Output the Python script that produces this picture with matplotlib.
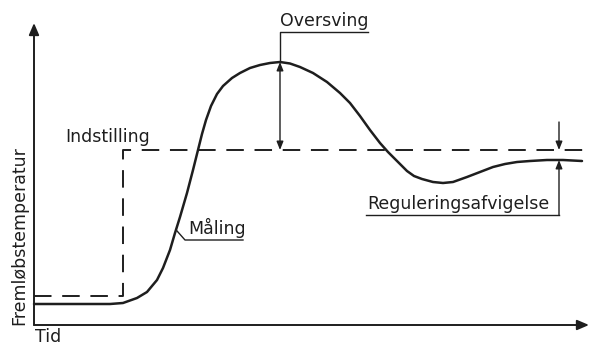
import numpy as np
import matplotlib.pyplot as plt

### DATA

# measured flow temperature (Måling)
tid = [0, 76, 89, 103, 113, 123, 129, 136, 141, 146, 153, 159, 164, 168, 172, 177, 183, 189,
       198, 206, 216, 226, 236, 246, 256, 266, 279, 293, 306, 316, 326, 336, 346, 354, 363,
       373, 380, 388, 399, 409, 419, 433, 446, 459, 471, 483, 496, 513, 529, 548]
maaling = [21, 21, 22, 27, 33, 45, 57, 75, 92, 108, 132, 155, 175, 191, 205, 219, 231, 239,
           247, 252, 257, 260, 262, 263, 261.5, 258, 252, 243, 232, 222, 209, 195, 182, 173, 164,
           154, 149, 146, 143, 142, 143, 148, 153, 158, 161, 163, 164, 165, 165, 164]

# setpoint step (Indstilling)
indst_tid = [0, 89, 89, 555]
indstilling = [29, 29, 175, 175]

ylabel = 'Fremløbstemperatur'
xlabel = 'Tid'

### PLOT

ink = '#1e1e1e'
fs = 12.5
plt.rcParams['font.family'] = ['DejaVu Sans']

fig = plt.figure(figsize=(5.89, 3.46), dpi=100)
ax = fig.add_axes([0, 0, 1, 1])
ax.set_xlim(-34, 555)
ax.set_ylim(-21, 325)
ax.axis('off')

def arrow(xy, xytext, style, lw=1.0, scale=10):
    ax.annotate('', xy=xy, xytext=xytext,
                arrowprops=dict(arrowstyle=style, lw=lw, color=ink,
                                shrinkA=0, shrinkB=0, mutation_scale=scale))

# axes with arrow heads
arrow((0, 302), (0, 0), '-|>,head_length=0.7,head_width=0.3', lw=1.4)
arrow((555, 0), (0, 0), '-|>,head_length=0.7,head_width=0.3', lw=1.4)

# curves
ax.plot(indst_tid, indstilling, color=ink, lw=1.4, ls=(0, (9, 5.5)))
ax.plot(tid, maaling, color=ink, lw=1.8, solid_capstyle='round', solid_joinstyle='round')

setpoint = indstilling[-1]

# overshoot
i_peak = int(np.argmax(maaling))
t_peak, peak = tid[i_peak], maaling[i_peak]
arrow((t_peak, peak), (t_peak, setpoint), '<|-|>,head_length=0.5,head_width=0.2')
ax.plot([t_peak, t_peak, 334], [peak, 293, 293], color=ink, lw=1.0)
ax.text(t_peak, 299, 'Oversving', fontsize=fs, color=ink, ha='left', va='baseline')

# control deviation
t_dev = 525
m_dev = np.interp(t_dev, tid, maaling)
arrow((t_dev, setpoint), (t_dev, 203), '-|>,head_length=0.5,head_width=0.2')
arrow((t_dev, m_dev), (t_dev, 110), '-|>,head_length=0.5,head_width=0.2')
ax.plot([332, t_dev], [110, 110], color=ink, lw=1.0)
ax.text(333, 116, 'Reguleringsafvigelse', fontsize=fs, color=ink, ha='left', va='baseline')

# measurement label
t_m = 142
m_m = np.interp(t_m, tid, maaling)
ax.plot([t_m, 151, 209], [m_m, 85, 85], color=ink, lw=1.0)
ax.text(154, 91, 'Måling', fontsize=fs, color=ink, ha='left', va='baseline')

# setpoint label
ax.text(31, 183, 'Indstilling', fontsize=fs, color=ink, ha='left', va='baseline')

# axis labels
ax.text(-15, 0, ylabel, fontsize=fs, color=ink, rotation=90, ha='center', va='bottom')
ax.text(1, -20.5, xlabel, fontsize=fs, color=ink, ha='left', va='bottom')

fig.savefig('out.png', dpi=100)
